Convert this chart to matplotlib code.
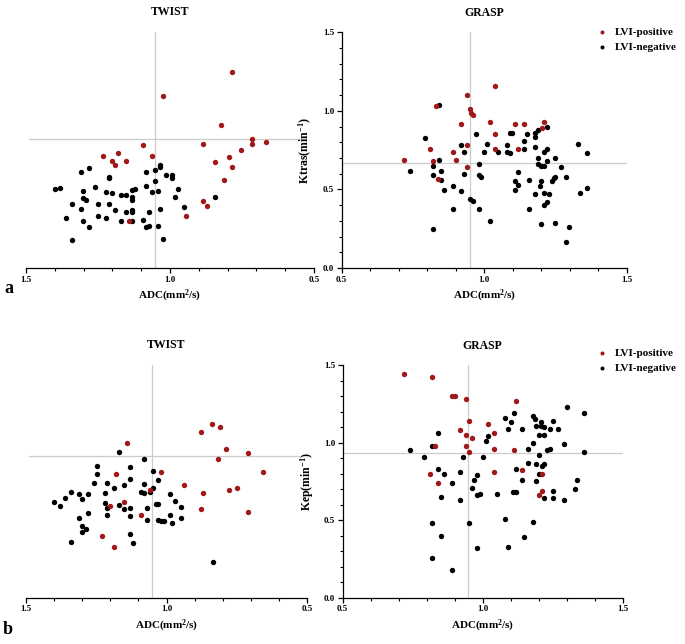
import numpy as np
import matplotlib
matplotlib.use("Agg")
import matplotlib.pyplot as plt
from matplotlib.ticker import MultipleLocator, FormatStrFormatter

plt.rcParams['font.family'] = ['Liberation Serif', 'DejaVu Serif']
plt.rcParams['font.weight'] = 'bold'
plt.rcParams['mathtext.default'] = 'regular'

RED = '#a01818'

# panel a: TWIST (ADC, Ktrans)
twist_a_pos_adc = [0.785, 1.023, 0.824, 0.714, 0.714, 0.665, 0.884, 1.093, 0.753, 1.231, 1.181, 1.063,
                   0.795, 1.201, 1.152, 1.191, 0.844, 0.785, 0.814, 0.885, 0.872, 0.943, 1.142]
twist_a_pos_val = [1.25, 1.097, 0.911, 0.82, 0.79, 0.805, 0.79, 0.782, 0.752, 0.714, 0.735, 0.714,
                   0.708, 0.684, 0.684, 0.653, 0.676, 0.64, 0.561, 0.428, 0.396, 0.328, 0.30]
twist_a_neg_adc = [1.401, 1.381, 1.340, 1.360, 1.340, 1.310, 1.281, 1.301, 1.301, 1.291, 1.310, 1.301,
                   1.281, 1.262, 1.251, 1.251, 1.221, 1.221, 1.212, 1.212, 1.212, 1.201, 1.192, 1.171,
                   1.171, 1.152, 1.152, 1.133, 1.122, 1.133, 1.133, 1.133, 1.133, 1.133, 1.093, 1.083,
                   1.083, 1.083, 1.072, 1.072, 1.063, 1.043, 1.052, 1.052, 1.033, 1.033, 1.033, 1.043,
                   1.023, 1.013, 0.993, 0.993, 0.973, 0.984, 0.953, 0.844]
twist_a_neg_val = [0.502, 0.511, 0.405, 0.316, 0.18, 0.608, 0.638, 0.487, 0.443, 0.434, 0.375, 0.30,
                   0.26, 0.513, 0.405, 0.328, 0.483, 0.32, 0.576, 0.570, 0.405, 0.477, 0.367, 0.466,
                   0.30, 0.466, 0.354, 0.498, 0.502, 0.455, 0.434, 0.367, 0.358, 0.30, 0.307, 0.608,
                   0.525, 0.258, 0.267, 0.358, 0.481, 0.487, 0.553, 0.623, 0.644, 0.653, 0.375, 0.269,
                   0.186, 0.595, 0.593, 0.572, 0.502, 0.455, 0.388, 0.449]

# panel a: GRASP (ADC, Ktrans)
grasp_a_pos_adc = [1.038, 0.939, 0.831, 0.950, 0.953, 0.961, 0.920, 1.019, 1.108, 1.139, 1.209, 1.202,
                   1.038, 0.941, 0.810, 1.038, 1.120, 0.891, 0.900, 0.720, 0.820, 0.939, 0.839]
grasp_a_pos_val = [1.161, 1.10, 1.032, 1.011, 0.989, 0.972, 0.919, 0.930, 0.919, 0.919, 0.930, 0.892,
                   0.85, 0.78, 0.758, 0.758, 0.758, 0.739, 0.689, 0.689, 0.678, 0.64, 0.568]
grasp_a_neg_adc = [0.840, 0.791, 0.741, 0.820, 0.840, 0.820, 0.850, 0.850, 0.860, 0.891, 0.920, 0.891,
                   0.820, 0.920, 0.930, 0.930, 0.970, 0.980, 0.980, 0.990, 0.950, 0.961, 0.980, 1.009,
                   0.999, 1.019, 1.049, 1.079, 1.079, 1.089, 1.089, 1.099, 1.108, 1.120, 1.108, 1.120,
                   1.139, 1.139, 1.149, 1.158, 1.158, 1.178, 1.178, 1.178, 1.178, 1.190, 1.219, 1.190,
                   1.190, 1.196, 1.199, 1.199, 1.209, 1.209, 1.219, 1.219, 1.209, 1.209, 1.219, 1.229,
                   1.199, 1.238, 1.244, 1.249, 1.249, 1.249, 1.268, 1.288, 1.288, 1.299, 1.328, 1.336,
                   1.360, 1.360]
grasp_a_neg_val = [1.04, 0.83, 0.619, 0.65, 0.689, 0.591, 0.619, 0.561, 0.498, 0.519, 0.487, 0.377,
                   0.248, 0.78, 0.739, 0.60, 0.85, 0.659, 0.591, 0.578, 0.439, 0.428, 0.377, 0.79,
                   0.739, 0.299, 0.739, 0.78, 0.739, 0.731, 0.86, 0.86, 0.551, 0.53, 0.498, 0.61,
                   0.809, 0.758, 0.85, 0.561, 0.377, 0.86, 0.833, 0.769, 0.468, 0.879, 0.90, 0.699,
                   0.659, 0.519, 0.551, 0.65, 0.65, 0.739, 0.758, 0.68, 0.477, 0.398, 0.417, 0.468,
                   0.278, 0.551, 0.570, 0.699, 0.580, 0.288, 0.64, 0.580, 0.167, 0.258, 0.79, 0.477,
                   0.729, 0.508]

# panel b: TWIST (ADC, Kep)
twist_b_pos_adc = [0.839, 0.808, 0.879, 1.139, 0.788, 0.710, 0.818, 0.658, 1.018, 1.180, 0.939, 0.869,
                   0.779, 0.748, 1.058, 1.150, 1.200, 1.089, 0.879, 0.710, 1.229, 1.187]
twist_b_pos_val = [1.12, 1.098, 1.066, 0.999, 0.96, 0.931, 0.894, 0.81, 0.81, 0.795, 0.729, 0.675,
                   0.694, 0.705, 0.694, 0.619, 0.591, 0.533, 0.57, 0.554, 0.395, 0.329]
twist_b_neg_adc = [1.400, 1.379, 1.360, 1.339, 1.310, 1.300, 1.279, 1.310, 1.300, 1.300, 1.288, 1.279,
                   1.339, 1.258, 1.249, 1.249, 1.219, 1.219, 1.210, 1.210, 1.210, 1.188, 1.169, 1.169,
                   1.150, 1.150, 1.129, 1.129, 1.129, 1.129, 1.129, 1.119, 1.079, 1.089, 1.079, 1.079,
                   1.069, 1.069, 1.058, 1.049, 1.049, 1.038, 1.029, 1.029, 1.029, 1.018, 1.008, 0.988,
                   0.988, 0.979, 0.968, 0.949, 0.949, 0.836]
twist_b_neg_val = [0.615, 0.593, 0.645, 0.683, 0.668, 0.636, 0.668, 0.516, 0.464, 0.426, 0.44, 0.546,
                   0.359, 0.741, 0.795, 0.851, 0.673, 0.612, 0.741, 0.576, 0.533, 0.705, 0.939, 0.597,
                   0.729, 0.57, 0.765, 0.842, 0.576, 0.524, 0.41, 0.352, 0.892, 0.683, 0.735, 0.673,
                   0.576, 0.50, 0.683, 0.705, 0.819, 0.604, 0.759, 0.604, 0.50, 0.494, 0.494, 0.668,
                   0.533, 0.479, 0.623, 0.587, 0.516, 0.232]

# panel b: GRASP (ADC, Kep)
grasp_b_pos_adc = [0.720, 0.820, 0.890, 0.901, 0.940, 1.119, 0.950, 1.020, 0.920, 1.040, 0.940, 0.961,
                   0.831, 0.940, 1.039, 1.110, 0.950, 0.810, 1.040, 1.139, 1.211, 0.840, 1.211, 1.200]
grasp_b_pos_val = [1.442, 1.421, 1.302, 1.302, 1.281, 1.27, 1.141, 1.12, 1.081, 1.06, 1.049, 1.029,
                   0.98, 0.98, 0.961, 0.952, 0.939, 0.80, 0.81, 0.821, 0.80, 0.739, 0.69, 0.66]
grasp_b_neg_adc = [1.301, 1.361, 1.111, 1.080, 1.100, 1.089, 1.139, 1.179, 1.188, 1.189, 1.208, 1.208,
                   1.218, 1.250, 1.239, 1.269, 1.200, 1.219, 1.179, 1.160, 1.229, 1.239, 1.290, 1.361,
                   1.200, 1.160, 1.190, 1.211, 1.219, 1.119, 1.200, 1.139, 1.190, 1.338, 1.330, 1.250,
                   1.219, 1.250, 1.290, 1.108, 1.119, 1.050, 0.989, 0.980, 0.960, 0.969, 0.980, 0.920,
                   0.890, 0.860, 0.840, 0.850, 0.920, 0.930, 1.000, 1.010, 1.020, 0.840, 0.820, 0.740,
                   0.790, 0.820, 0.850, 0.820, 0.890, 0.950, 0.980, 1.080, 1.089, 1.149, 1.179]
grasp_b_neg_val = [1.229, 1.191, 1.191, 1.161, 1.13, 1.09, 1.09, 1.169, 1.152, 1.109, 1.13, 1.109,
                   1.098, 1.141, 1.09, 1.09, 1.049, 1.049, 0.999, 0.961, 0.95, 0.961, 0.989, 0.939,
                   0.92, 0.87, 0.86, 0.849, 0.86, 0.83, 0.80, 0.759, 0.75, 0.759, 0.698, 0.69,
                   0.64, 0.64, 0.63, 0.679, 0.679, 0.668, 0.668, 0.66, 0.709, 0.759, 0.789, 0.81,
                   0.739, 0.80, 0.83, 0.649, 0.63, 0.909, 0.909, 1.012, 1.04, 1.06, 0.98, 0.95,
                   0.909, 0.479, 0.398, 0.258, 0.178, 0.479, 0.318, 0.509, 0.329, 0.389, 0.488]

# cut-off lines (ADC, perfusion)
cut_twist = [(1.052, 0.819), (1.05, 0.913)]
cut_grasp = [(0.95, 0.666), (0.949, 0.931)]
ylabels = ['Ktras(min$^{-1}$)', 'Kep(min$^{-1}$)']

W, H = 685, 644
fig = plt.figure(figsize=(W / 100, H / 100), dpi=100)


def px_axes(x0, x1, ytop, ybot):
    return fig.add_axes([x0 / W, 1 - ybot / H, (x1 - x0) / W, (ybot - ytop) / H])


def style(ax):
    ax.set_ylim(0, 1.5)
    ax.xaxis.set_major_locator(MultipleLocator(0.5))
    ax.xaxis.set_minor_locator(MultipleLocator(0.1))
    ax.xaxis.set_major_formatter(FormatStrFormatter('%.1f'))
    ax.tick_params(which='major', direction='out', length=3.5, width=0.9, labelsize=6.5, pad=2)
    ax.tick_params(which='minor', direction='out', length=2, width=0.8)
    for s in ['top', 'right']:
        ax.spines[s].set_visible(False)
    for s in ['left', 'bottom']:
        ax.spines[s].set_linewidth(0.9)
    ax.set_xlabel('ADC(mm$^2$/s)', fontsize=8, fontweight='bold', labelpad=3)


rows = [
    (32.3, 268, 26, 314, 341.7, 626.7, 27,
     (twist_a_neg_adc, twist_a_neg_val, twist_a_pos_adc, twist_a_pos_val),
     (grasp_a_neg_adc, grasp_a_neg_val, grasp_a_pos_adc, grasp_a_pos_val)),
    (365, 597.7, 26, 307, 342.7, 622.7, 348,
     (twist_b_neg_adc, twist_b_neg_val, twist_b_pos_adc, twist_b_pos_val),
     (grasp_b_neg_adc, grasp_b_neg_val, grasp_b_pos_adc, grasp_b_pos_val)),
]

for i, (yt, yb, lx0, lx1, rx0, rx1, leg_y, tw, gr) in enumerate(rows):
    # TWIST, reversed ADC axis, no y axis of its own
    axl = px_axes(lx0, lx1, yt, yb)
    style(axl)
    axl.set_xlim(1.5, 0.5)
    axl.spines['left'].set_visible(False)
    axl.set_yticks([])
    axl.axvline(cut_twist[i][0], color='#cccccc', lw=0.9, zorder=1)
    axl.axhline(cut_twist[i][1], xmin=0.01, xmax=0.97, color='#cccccc', lw=0.9, zorder=1)
    axl.scatter(tw[0], tw[1], s=15, color='black', linewidths=0, zorder=3)
    axl.scatter(tw[2], tw[3], s=15, color=RED, linewidths=0, zorder=3)

    # GRASP
    axr = px_axes(rx0, rx1, yt, yb)
    style(axr)
    axr.set_xlim(0.5, 1.5)
    axr.yaxis.set_major_locator(MultipleLocator(0.5))
    axr.yaxis.set_minor_locator(MultipleLocator(0.1))
    axr.yaxis.set_major_formatter(FormatStrFormatter('%.1f'))
    axr.axvline(cut_grasp[i][0], color='#cccccc', lw=0.9, zorder=1)
    axr.axhline(cut_grasp[i][1], color='#cccccc', lw=0.9, zorder=1)
    hn = axr.scatter(gr[0], gr[1], s=15, color='black', linewidths=0, zorder=3)
    hp = axr.scatter(gr[2], gr[3], s=15, color=RED, linewidths=0, zorder=3)
    axr.set_ylabel(ylabels[i], fontsize=8.5, fontweight='bold')
    axr.yaxis.set_label_coords(-0.097, 0.5)

    axr.legend([hp, hn], ['LVI-positive', 'LVI-negative'], loc='upper left',
               bbox_to_anchor=(596 / W, 1 - leg_y / H), bbox_transform=fig.transFigure,
               frameon=False, fontsize=8, markerscale=0.75, handletextpad=0.7,
               borderpad=0, labelspacing=0.45, handlelength=1.0, borderaxespad=0)

    fig.text((lx0 + lx1) / 2 / W, 1 - (yt - 20) / H, 'TWIST', ha='center', va='center',
             fontsize=8.5, fontweight='bold')
    fig.text((rx0 + rx1) / 2 / W, 1 - (yt - 19) / H, 'GRASP', ha='center', va='center',
             fontsize=8.5, fontweight='bold')

fig.text(9 / W, 1 - 289 / H, 'a', ha='center', va='center', fontsize=13, fontweight='bold')
fig.text(8 / W, 1 - 630 / H, 'b', ha='center', va='center', fontsize=13, fontweight='bold')

fig.savefig('out.png', dpi=100)
